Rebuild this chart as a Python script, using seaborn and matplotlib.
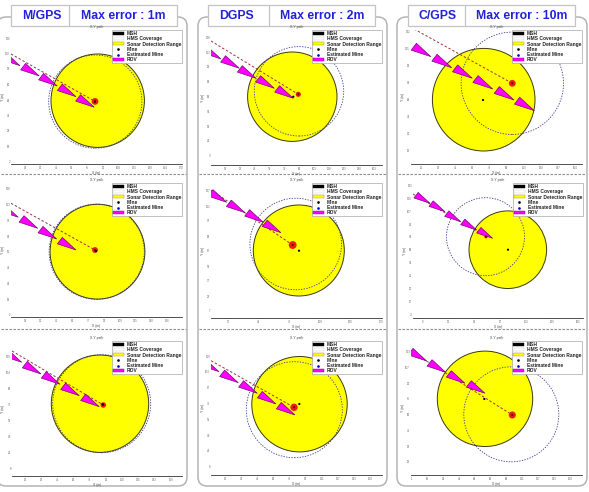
import matplotlib
matplotlib.use("Agg")
import matplotlib.pyplot as plt
from matplotlib.lines import Line2D
from matplotlib.patches import Circle, FancyBboxPatch, Patch, Polygon, Rectangle
import numpy as np
import seaborn as sns

sns.set_theme(style="white")
plt.rcParams["font.family"] = ["Liberation Sans", "DejaVu Sans"]

FIG_W, FIG_H = 589, 492

column_titles = ["M/GPS", "DGPS", "C/GPS"]
column_errors = ["Max error : 1m", "Max error : 2m", "Max error : 10m"]

legend_labels = ["MSH", "HMS Coverage", "Sonar Detection Range",
                 "Mine", "Estimated Mine", "ROV"]

# Each scenario: sonar circle, HMS circle, mine, estimated mine, reference
# track start, ROV nose positions, triangle scale, blob size, tick origin/steps.
scenarios = [
    dict(frame=(11, 182, 30, 164), sonar=(86.7, 63.3, 46.7), hms=(84.3, 62.4, 46.6),
         mine=(84, 62.3), est=(84, 62.6), start=(0, 110),
         rov_x=[9, 28.3, 46.3, 65, 83.3], rov_y=[98.3, 88, 78, 67.3, 56.7],
         scale=1.08, blob=24, xt=(14, 15.6), yt=(2, 15.5)),
    dict(frame=(211, 382, 30, 165), sonar=(81.3, 68.3, 44.7), hms=(88, 73.7, 44.7),
         mine=(82.3, 68.3), est=(87.3, 70.7), start=(0, 124),
         rov_x=[10, 28.3, 45, 63.3, 82.3], rov_y=[106, 96.7, 86.7, 76.7, 66.7],
         scale=1.08, blob=14, xt=(14, 14.9), yt=(9.3, 14.8)),
    dict(frame=(411, 582, 30, 164), sonar=(72.7, 64.3, 51.3), hms=(101.3, 80.7, 51.2),
         mine=(72, 64), est=(101.3, 80.7), start=(3, 135),
         rov_x=[20, 40.7, 61.3, 81.7, 103, 123.3], rov_y=[107.3, 96.3, 85.7, 75, 64, 53.3],
         scale=1.15, blob=24, xt=(10.7, 17), yt=(13.3, 17)),
    dict(frame=(11, 182, 183, 317), sonar=(86.5, 65.3, 47.4), hms=(85.7, 65.3, 47.6),
         mine=(85, 66), est=(84, 67), start=(0, 113.7),
         rov_x=[7.3, 26.7, 45.7, 65], rov_y=[99.7, 88.7, 78, 67],
         scale=1.08, blob=18, xt=(14, 15.8), yt=(2, 15.8)),
    dict(frame=(211, 382, 183, 318), sonar=(87.8, 67.5, 45.5), hms=(84.7, 74, 45.8),
         mine=(88, 67.3), est=(81.7, 73), start=(0, 128),
         rov_x=[15.7, 34, 52.3, 70], rov_y=[115.7, 105.3, 95.7, 85.3],
         scale=1.08, blob=32, xt=(17.3, 30.5), yt=(7, 15)),
    dict(frame=(413, 583, 183, 318), sonar=(94.8, 68.3, 38.8), hms=(72.5, 81.3, 39),
         mine=(95, 68.3), est=(73, 81.3), start=(0, 124),
         rov_x=[17, 32, 47.7, 63.7, 79.7], rov_y=[114.7, 106.3, 96.3, 88, 79.7],
         scale=0.93, blob=6, xt=(9.3, 26), yt=(3.7, 12.9)),
    dict(frame=(12, 182, 341, 476), sonar=(88, 72.3, 48.7), hms=(89.7, 72.3, 49),
         mine=(90.7, 71.7), est=(91.3, 71), start=(0, 125),
         rov_x=[9.7, 29, 48, 67.3, 87.3], rov_y=[113.7, 102, 91.7, 80.3, 69.3],
         scale=1.08, blob=16, xt=(13, 16.2), yt=(7.7, 16)),
    dict(frame=(211, 382, 341, 475), sonar=(88.5, 70.8, 47.7), hms=(83.3, 65.3, 48),
         mine=(88.3, 71), est=(83, 67.7), start=(0, 114.3),
         rov_x=[8, 27.3, 46.3, 65, 84], rov_y=[103.3, 92.3, 81.7, 71, 60],
         scale=1.08, blob=28, xt=(14.7, 16), yt=(8.3, 15.8)),
    dict(frame=(411, 582, 341, 475), sonar=(74, 76.2, 47.7), hms=(100.3, 60.7, 47.5),
         mine=(73.3, 76), est=(101.3, 60), start=(0.7, 123.3),
         rov_x=[15.7, 34.7, 54, 74], rov_y=[114, 102.7, 91.7, 81.7],
         scale=1.08, blob=26, xt=(0.7, 15.8), yt=(13.3, 15.7)),
]

# Triangle corners behind the nose of an ROV glyph.
rov_shape = np.array([[0, 0], [-12.7, 11.7], [-17.3, 5.7]])

# Column cards and header tabs, in figure pixels.
card_x = [(-3, 187), (198, 387), (397, 587)]
tab_x = [(11, 69, 177), (208, 269, 375), (408, 465, 575)]
title_cx = [42, 237, 438]
error_cx = [123, 322, 522]
separator_y = [174, 329]

fig = plt.figure(figsize=(FIG_W / 100, FIG_H / 100), dpi=100)
page = fig.add_axes([0, 0, 1, 1])
page.set_xlim(0, FIG_W)
page.set_ylim(FIG_H, 0)
page.axis("off")

for (x0, x1) in card_x:
    page.add_patch(FancyBboxPatch((x0 + 9, 26), x1 - x0 - 18, 451,
                                  boxstyle="round,pad=9,rounding_size=9",
                                  fc="white", ec="#b4b4b4", lw=1.1))
    for y in separator_y:
        page.plot([max(x0, 0) + 1, x1 - 1], [y, y], color="#8c8c8c", lw=0.8,
                  ls=(0, (2.2, 1.4)), zorder=3)

for i, (x0, xm, x1) in enumerate(tab_x):
    page.add_patch(Rectangle((x0, 5), x1 - x0, 21, fc="white", ec="#c4c4c4", lw=0.9))
    page.plot([xm, xm], [5, 26], color="#c4c4c4", lw=0.9)
    page.text(title_cx[i], 16, column_titles[i], ha="center", va="center",
              color="#2222d8", fontsize=8.8, fontweight="bold", family="Liberation Sans")
    page.text(error_cx[i], 16, column_errors[i], ha="center", va="center",
              color="#2222d8", fontsize=8.8, fontweight="bold", family="Liberation Sans")


def legend_handles():
    dot = dict(marker="o", color="none", markersize=1.9, markeredgewidth=0)
    return [
        Patch(fc="black", ec="black", lw=0.3),
        Patch(fc="white", ec="#cccccc", lw=0.3),
        Patch(fc="#ffff00", ec="#999900", lw=0.3),
        Line2D([], [], markerfacecolor="black", **dot),
        Line2D([], [], markerfacecolor="#0000cc", **dot),
        Patch(fc="#ff00ff", ec="#880088", lw=0.3),
    ]


for sc in scenarios:
    left, right, top, bottom = sc["frame"]
    ax = fig.add_axes([left / FIG_W, 1 - bottom / FIG_H,
                       (right - left) / FIG_W, (bottom - top) / FIG_H])
    ax.patch.set_alpha(0)

    cx, cy, r = sc["sonar"]
    ax.add_patch(Circle((cx, cy), r, fc="#ffff00", ec="#3a3a10", lw=0.7, zorder=1))
    hx, hy, hr = sc["hms"]
    ax.add_patch(Circle((hx, hy), hr, fc="none", ec="#3c3c90", lw=0.6,
                        ls=(0, (1.6, 1.6)), zorder=2))

    sns.lineplot(x=[sc["start"][0], sc["est"][0]], y=[sc["start"][1], sc["est"][1]],
                 ax=ax, color="#a03040", lw=0.7, linestyle=(0, (2.5, 2)),
                 sort=False, legend=False, zorder=3, errorbar=None)

    for nose_x, nose_y in zip(sc["rov_x"], sc["rov_y"]):
        corners = rov_shape * sc["scale"] + [nose_x, nose_y]
        ax.add_patch(Polygon(corners, closed=True, fc="#ff00ff", ec="#500050",
                             lw=0.4, zorder=4))

    sns.scatterplot(x=[sc["est"][0]], y=[sc["est"][1]], ax=ax, s=sc["blob"],
                    color="#ee1c10", edgecolor="none", zorder=5, legend=False)
    sns.scatterplot(x=[sc["est"][0]], y=[sc["est"][1]], ax=ax, s=2.5,
                    color="#601010", edgecolor="none", zorder=6, legend=False)
    sns.scatterplot(x=[sc["mine"][0]], y=[sc["mine"][1]], ax=ax, s=2.5,
                    color="black", edgecolor="none", zorder=6, legend=False)

    width, height = right - left, bottom - top
    ax.set_xlim(0, width)
    ax.set_ylim(0, height)

    xticks = np.arange(sc["xt"][0], width, sc["xt"][1])
    yticks = np.arange(sc["yt"][0], height, sc["yt"][1])
    ax.set_xticks(xticks)
    ax.set_yticks(yticks)
    ax.set_xticklabels([f"{v:.0f}" for v in xticks])
    ax.set_yticklabels([f"{v:.0f}" for v in yticks])
    ax.tick_params(axis="x", length=1, width=0.3, labelsize=2.0, pad=0.6, colors="#666666",
                   bottom=True)
    ax.tick_params(axis="y", length=0, labelsize=2.0, pad=0.8, colors="#666666")
    ax.set_xlabel("X (m)", fontsize=2.4, labelpad=0.4, color="#444444")
    ax.set_ylabel("Y (m)", fontsize=2.4, labelpad=0.4, color="#444444")
    ax.set_title("X-Y path", fontsize=2.4, pad=1.2, color="#444444")

    sns.despine(ax=ax, left=True, top=True, right=True)
    ax.spines["bottom"].set_color("#333333")
    ax.spines["bottom"].set_linewidth(0.6)

    leg = ax.legend(legend_handles(), legend_labels, loc="upper right",
                    bbox_to_anchor=(1.0, 1.0), borderaxespad=0,
                    frameon=True, fancybox=False, framealpha=1, edgecolor="#a8a8a8",
                    borderpad=0.2, labelspacing=0.06, handlelength=2.2,
                    handleheight=0.6, handletextpad=0.6,
                    prop=dict(size=3.5, weight="bold"))
    leg.get_frame().set_linewidth(0.5)
    leg.set_zorder(10)
    for text in leg.get_texts():
        text.set_color("#222222")

fig.savefig("out.png", dpi=100, facecolor="white")
